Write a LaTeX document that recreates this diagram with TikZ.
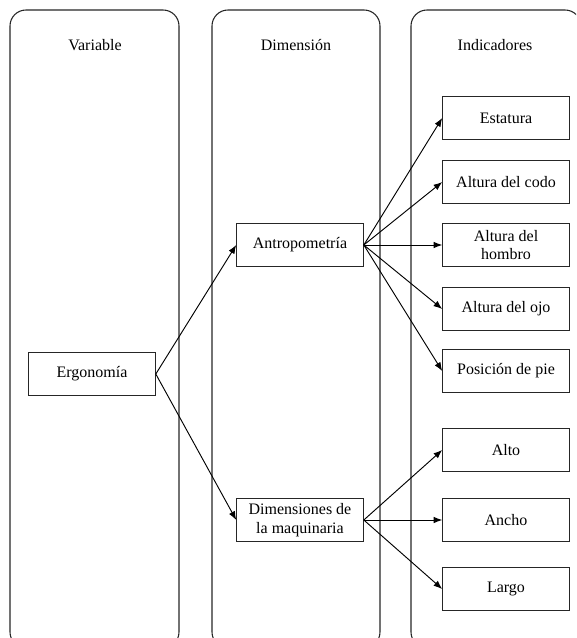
\documentclass[tikz,border=0pt]{standalone}
\usepackage{fontspec}
\setmainfont{Liberation Serif}
\usetikzlibrary{arrows.meta}
\begin{document}
\begin{tikzpicture}[x=0.75pt,y=-0.75pt,
    column/.style={draw=black!85,line width=0.8pt,rounded corners=12pt},
    box/.style={draw=black!85,line width=0.7pt,minimum width=95pt,minimum height=32pt,inner sep=2pt,align=center,font=\fontsize{12}{14.2}\selectfont},
    title/.style={font=\fontsize{12}{14.2}\selectfont},
    link/.style={-{Latex[length=6.5pt,width=5pt]},line width=0.7pt}]
      \clip (0,0) rectangle (576,638);
      % columns
      \draw[column] (10,10) rectangle (179,648);
      \draw[column] (212,10) rectangle (380,648);
      \draw[column] (411,10) rectangle (581,648);
      \node[title] (tvar) at (95,45) {Variable};
      \node[title] (tdim) at (296,45) {Dimensión};
      \node[title] (tind) at (495,45) {Indicadores};
      % variable
      \node[box] (ergo) at (92,374) {Ergonomía};
      % dimensiones
      \node[box,minimum width=95pt] (antro) at (300,245) {Antropometría};
      \node[box,minimum width=95pt] (maqui) at (300,520) {Dimensiones de\\la maquinaria};
      % indicadores
      \node[box] (esta) at (506,118) {Estatura};
      \node[box] (codo) at (506,182) {Altura del codo};
      \node[box] (homb) at (506,245) {Altura del\\hombro};
      \node[box] (ojo)  at (506,309) {Altura del ojo};
      \node[box] (pie)  at (506,371) {Posición de pie};
      \node[box] (alto) at (506,450) {Alto};
      \node[box] (anch) at (506,520) {Ancho};
      \node[box] (larg) at (506,589) {Largo};
      % conexiones
      \draw[link] (ergo.east) -- (antro.west);
      \draw[link] (ergo.east) -- (maqui.west);
      \draw[link] (antro.east) -- (esta.west);
      \draw[link] (antro.east) -- (codo.west);
      \draw[link] (antro.east) -- (homb.west);
      \draw[link] (antro.east) -- (ojo.west);
      \draw[link] (antro.east) -- (pie.west);
      \draw[link] (maqui.east) -- (alto.west);
      \draw[link] (maqui.east) -- (anch.west);
      \draw[link] (maqui.east) -- (larg.west);
\end{tikzpicture}
\end{document}
